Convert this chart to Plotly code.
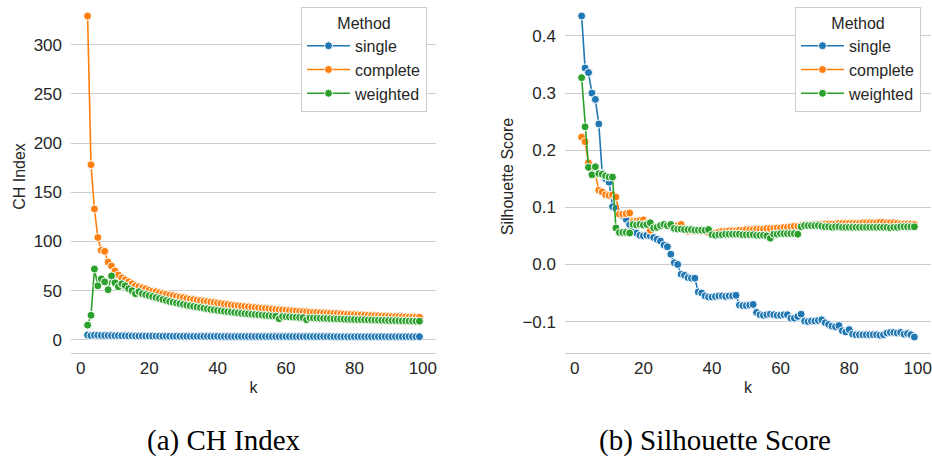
import plotly.graph_objects as go

k_values = list(range(2, 100))
methods = ["single", "complete", "weighted"]
colors = ["#1f77b4", "#ff7f0e", "#2ca02c"]

ch_single = [
    5.0, 4.4, 4.8, 4.7, 4.6, 4.5, 4.5, 4.4, 4.3, 4.3,
    4.2, 4.2, 4.1, 4.1, 4.0, 4.0, 4.0, 3.9, 3.9, 3.9,
    3.9, 3.8, 3.8, 3.8, 3.8, 3.7, 3.7, 3.7, 3.7, 3.7,
    3.6, 3.6, 3.6, 3.6, 3.6, 3.6, 3.6, 3.6, 3.6, 3.5,
    3.5, 3.5, 3.5, 3.5, 3.5, 3.5, 3.5, 3.5, 3.5, 3.5,
    3.5, 3.4, 3.4, 3.4, 3.4, 3.4, 3.4, 3.4, 3.4, 3.4,
    3.4, 3.4, 3.4, 3.4, 3.4, 3.4, 3.4, 3.4, 3.4, 3.4,
    3.4, 3.4, 3.3, 3.3, 3.3, 3.3, 3.3, 3.3, 3.3, 3.3,
    3.3, 3.3, 3.3, 3.3, 3.3, 3.3, 3.3, 3.3, 3.3, 3.3,
    3.3, 3.3, 3.3, 3.3, 3.3, 3.3, 3.3, 3.3,
]
ch_complete = [
    329, 178, 133, 104, 91, 90, 79, 75, 70, 66,
    63, 61, 59, 57, 55, 54, 53, 52, 50.5, 49.5,
    49, 48, 47, 46.5, 45.5, 45, 44, 43.5, 43, 42,
    41.5, 41, 40.5, 40, 39.5, 39, 38.5, 38, 37.5, 37,
    36.5, 36, 35.5, 35, 34.7, 34.3, 34, 33.6, 33.2, 32.9,
    32.6, 32.3, 32, 31.6, 31.3, 31, 30.7, 30.4, 30.1, 29.8,
    29.6, 29.3, 29, 28.8, 28.6, 28.3, 28.1, 27.9, 27.7, 27.5,
    27.3, 27.1, 26.9, 26.7, 26.5, 26.3, 26.1, 25.9, 25.7, 25.5,
    25.4, 25.2, 25.0, 24.9, 24.7, 24.6, 24.4, 24.3, 24.1, 24.0,
    23.8, 23.7, 23.6, 23.4, 23.3, 23.2, 23.1, 23.0,
]
ch_weighted = [
    15, 25, 72, 55, 62, 59, 51, 65, 58, 54,
    57, 55, 52, 50, 47, 49, 47, 46, 45, 44,
    43, 42, 41, 40, 39, 38.3, 37.5, 36.8, 36, 35.3,
    34.6, 34, 33.4, 32.8, 32.2, 31.6, 31, 30.5, 30, 29.5,
    29, 28.6, 28.2, 27.8, 27.4, 27, 26.7, 26.4, 26.1, 25.8,
    25.5, 25.2, 24.9, 24.6, 24.3, 24.0, 21.5, 23.8, 23.6, 23.4,
    23.2, 23.0, 22.8, 22.6, 20.5, 22.4, 22.3, 22.2, 22.0, 21.9,
    21.7, 21.6, 21.4, 21.3, 21.2, 21.0, 20.9, 20.8, 20.7, 20.6,
    20.5, 20.4, 20.3, 20.2, 20.1, 20.0, 19.9, 19.8, 19.7, 19.6,
    19.5, 19.4, 19.3, 19.3, 19.2, 19.1, 19.0, 19.0,
]

sil_single = [
    0.435, 0.344, 0.336, 0.300, 0.289, 0.246, 0.160, 0.150, 0.144, 0.101,
    0.098, 0.090, 0.085, 0.079, 0.070, 0.060, 0.055, 0.051, 0.050, 0.051,
    0.050, 0.047, 0.044, 0.041, 0.034, 0.031, 0.018, 0.003, 0.000, -0.017,
    -0.019, -0.023, -0.024, -0.024, -0.048, -0.050, -0.055, -0.057, -0.057, -0.056,
    -0.055, -0.055, -0.056, -0.055, -0.055, -0.054, -0.071, -0.072, -0.072, -0.071,
    -0.070, -0.084, -0.088, -0.089, -0.088, -0.087, -0.088, -0.089, -0.089, -0.088,
    -0.088, -0.094, -0.094, -0.091, -0.087, -0.099, -0.100, -0.099, -0.099, -0.098,
    -0.097, -0.102, -0.105, -0.108, -0.109, -0.107, -0.116, -0.118, -0.114, -0.122,
    -0.123, -0.123, -0.123, -0.123, -0.123, -0.123, -0.123, -0.124, -0.123, -0.120,
    -0.119, -0.119, -0.120, -0.119, -0.122, -0.121, -0.123, -0.127,
]
sil_complete = [
    0.223, 0.215, 0.178, 0.165, 0.158, 0.130, 0.127, 0.122, 0.121, 0.122,
    0.118, 0.088, 0.088, 0.089, 0.090, 0.075, 0.076, 0.077, 0.078, 0.072,
    0.060, 0.065, 0.066, 0.067, 0.068, 0.068, 0.069, 0.067, 0.068, 0.070,
    0.062, 0.058, 0.059, 0.060, 0.060, 0.060, 0.059, 0.056, 0.054, 0.055,
    0.057, 0.058, 0.058, 0.059, 0.059, 0.059, 0.060, 0.060, 0.061, 0.061,
    0.061, 0.062, 0.062, 0.062, 0.063, 0.063, 0.063, 0.064, 0.064, 0.065,
    0.065, 0.066, 0.067, 0.067, 0.068, 0.069, 0.069, 0.069, 0.070, 0.070,
    0.070, 0.071, 0.071, 0.071, 0.071, 0.072, 0.072, 0.072, 0.072, 0.072,
    0.072, 0.072, 0.073, 0.073, 0.073, 0.073, 0.073, 0.074, 0.074, 0.073,
    0.073, 0.073, 0.072, 0.071, 0.071, 0.071, 0.071, 0.070,
]
sil_weighted = [
    0.327, 0.241, 0.170, 0.157, 0.171, 0.159, 0.158, 0.155, 0.153, 0.153,
    0.064, 0.056, 0.056, 0.056, 0.055, 0.070, 0.069, 0.070, 0.069, 0.070,
    0.073, 0.064, 0.065, 0.068, 0.070, 0.068, 0.070, 0.063, 0.062, 0.062,
    0.061, 0.061, 0.061, 0.060, 0.060, 0.060, 0.060, 0.061, 0.052, 0.051,
    0.052, 0.052, 0.053, 0.053, 0.053, 0.053, 0.053, 0.052, 0.052, 0.052,
    0.052, 0.051, 0.051, 0.051, 0.050, 0.046, 0.053, 0.053, 0.054, 0.054,
    0.054, 0.054, 0.054, 0.053, 0.066, 0.068, 0.068, 0.068, 0.068, 0.068,
    0.067, 0.066, 0.066, 0.065, 0.066, 0.066, 0.065, 0.065, 0.065, 0.065,
    0.065, 0.065, 0.065, 0.065, 0.065, 0.065, 0.065, 0.065, 0.065, 0.065,
    0.064, 0.065, 0.065, 0.066, 0.066, 0.066, 0.066, 0.066,
]

ch_series = [ch_single, ch_complete, ch_weighted]
sil_series = [sil_single, sil_complete, sil_weighted]

W, H = 932, 462
FONT = "Liberation Sans, Arial, sans-serif"
SERIF = "Liberation Serif, Times New Roman, serif"
TXT = "#262626"
GRID = "#cccccc"

fig = go.Figure()
for name, col, ys in zip(methods, colors, ch_series):
    fig.add_trace(go.Scatter(
        x=k_values, y=ys, name=name, mode="lines+markers",
        line=dict(color=col, width=1.6),
        marker=dict(color=col, size=8, line=dict(color="white", width=1)),
        xaxis="x", yaxis="y", legend="legend",
    ))
for name, col, ys in zip(methods, colors, sil_series):
    fig.add_trace(go.Scatter(
        x=k_values, y=ys, name=name, mode="lines+markers",
        line=dict(color=col, width=1.6),
        marker=dict(color=col, size=8, line=dict(color="white", width=1)),
        xaxis="x2", yaxis="y2", legend="legend2",
    ))

ydom = [(H - 353) / H, 1.0]
common_x = dict(
    range=[-2.85, 103.85], tickvals=[0, 20, 40, 60, 80, 100],
    showgrid=False, zeroline=False, showline=True, linecolor=GRID, linewidth=1,
    ticks="", tickfont=dict(size=17, color=TXT, family=FONT),
    title=dict(text="k", font=dict(size=16, color=TXT, family=FONT), standoff=4),
)
common_y = dict(
    showgrid=True, gridcolor=GRID, gridwidth=1, zeroline=False, showline=False,
    ticks="", tickfont=dict(size=17, color=TXT, family=FONT),
    ticklabelstandoff=8,
)
leg_common = dict(
    bgcolor="white", bordercolor=GRID, borderwidth=1,
    font=dict(size=16, color=TXT, family=FONT),
    title=dict(text="Method", side="top center", font=dict(size=16, color=TXT, family=FONT)),
    xanchor="right", yanchor="top", y=1 - 7 / H, tracegroupgap=0,
    itemwidth=43,
)

fig.update_layout(
    width=W, height=H, margin=dict(l=0, r=0, t=0, b=0),
    paper_bgcolor="white", plot_bgcolor="white",
    font=dict(family=FONT, color=TXT),
    xaxis=dict(domain=[71 / W, 436 / W], anchor="y", **common_x),
    yaxis=dict(domain=ydom, anchor="x", range=[-13.3, 345.3],
               tickvals=[0, 50, 100, 150, 200, 250, 300],
               title=dict(text="CH Index", font=dict(size=16, color=TXT, family=FONT), standoff=4),
               **common_y),
    xaxis2=dict(domain=[565 / W, 931 / W], anchor="y2", **common_x),
    yaxis2=dict(domain=ydom, anchor="x2", range=[-0.155, 0.463],
                tickvals=[-0.1, 0.0, 0.1, 0.2, 0.3, 0.4],
                ticktext=["\u22120.1", "0.0", "0.1", "0.2", "0.3", "0.4"],
                title=dict(text="Silhouette Score", font=dict(size=16, color=TXT, family=FONT), standoff=4),
                **common_y),
    legend=dict(x=427 / W, **leg_common),
    legend2=dict(x=921 / W, **leg_common),
    annotations=[
        dict(text="(a) CH Index", x=224 / W, y=(H - 440) / H, xref="paper", yref="paper",
             xanchor="center", yanchor="middle", showarrow=False,
             font=dict(family=SERIF, size=29, color="black")),
        dict(text="(b) Silhouette Score", x=715 / W, y=(H - 440) / H, xref="paper", yref="paper",
             xanchor="center", yanchor="middle", showarrow=False,
             font=dict(family=SERIF, size=29, color="black")),
    ],
)

fig.write_html("out.html")
